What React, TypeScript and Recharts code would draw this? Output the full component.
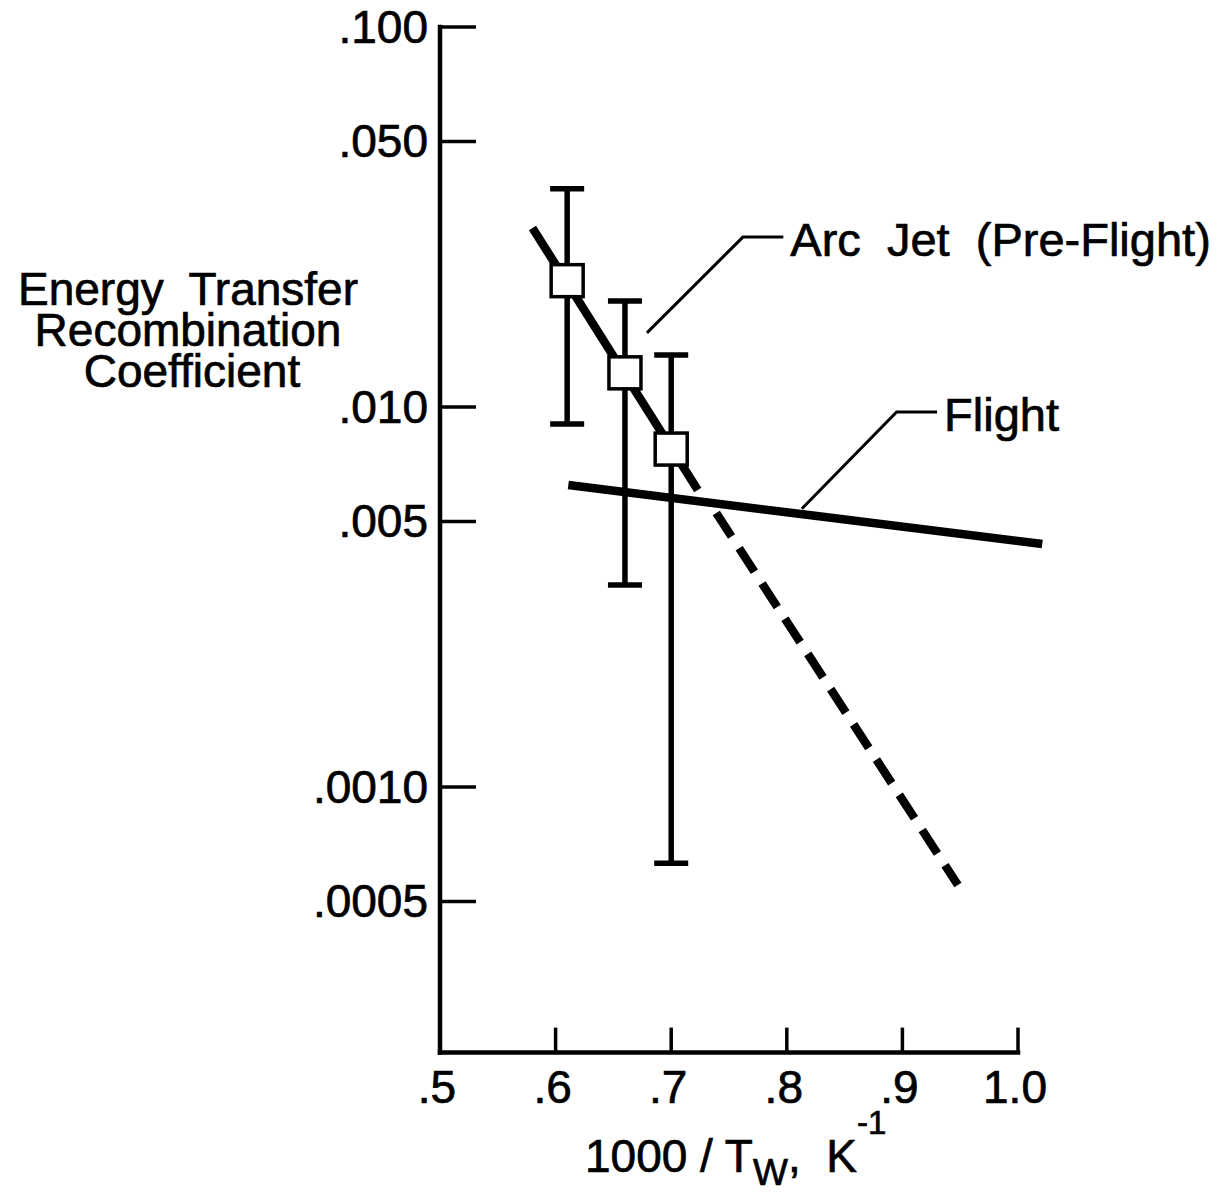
import React from 'react';
import {
  ComposedChart,
  Line,
  Scatter,
  ErrorBar,
  XAxis,
  YAxis,
  ReferenceLine,
  ReferenceDot,
} from 'recharts';

const FONT = '"Liberation Sans", Arial, Helvetica, sans-serif';
const TEXT_STROKE = 0.7;

// Arc-jet measurements: 1000/Tw vs. recombination coefficient, with scatter band
const arcJetX = [0.61, 0.66, 0.7];
const arcJetY = [0.0215, 0.0123, 0.00775];
const arcJetLow = [0.00902, 0.0034, 0.00063];
const arcJetHigh = [0.0375, 0.019, 0.0137];

// Arc-jet fit (solid) and its extrapolation to lower wall temperature (dashed)
const arcJetFitX = [0.58, 0.723];
const arcJetFitY = [0.0296, 0.00605];
const arcJetExtrapX = [0.739, 0.948];
const arcJetExtrapY = [0.00526, 0.000552];

// Coefficient inferred from flight data
const flightX = [0.611, 1.021];
const flightY = [0.00623, 0.00436];

// Callout leader lines
const arcJetLeaderX = [0.679, 0.762, 0.797];
const arcJetLeaderY = [0.01567, 0.028, 0.028];
const flightLeaderX = [0.813, 0.895, 0.93];
const flightLeaderY = [0.0054, 0.0097, 0.0097];

const arcJetName = 'Arc  Jet  (Pre-Flight)';
const flightName = 'Flight';

// Axes
const xTicks = [0.5, 0.6, 0.7, 0.8, 0.9, 1.0];
const xTickLabels = ['.5', '.6', '.7', '.8', '.9', '1.0'];
const yTicks = [0.1, 0.05, 0.01, 0.005, 0.001, 0.0005];
const yTickLabels = ['.100', '.050', '.010', '.005', '.0010', '.0005'];
const xDomain = [0.5, 1.05];
const yDomain = [0.0002, 0.1];

const zip = (xs: number[], ys: number[]) => xs.map((x, i) => ({ x, y: ys[i] }));

const arcJetPoints = arcJetX.map((x, i) => ({
  x,
  y: arcJetY[i],
  err: [arcJetY[i] - arcJetLow[i], arcJetHigh[i] - arcJetY[i]],
}));
const arcJetFit = zip(arcJetFitX, arcJetFitY);
const arcJetExtrap = zip(arcJetExtrapX, arcJetExtrapY);
const flight = zip(flightX, flightY);
const arcJetLeader = zip(arcJetLeaderX, arcJetLeaderY);
const flightLeader = zip(flightLeaderX, flightLeaderY);

const Y_TICK_GAP = 12;

const textProps = {
  fontFamily: FONT,
  fill: '#000',
  stroke: '#000',
  strokeWidth: TEXT_STROKE,
};

const YTick = (props: any) => {
  const { x, y, payload } = props;
  const axisX = x + Y_TICK_GAP;
  const label = yTickLabels[yTicks.indexOf(payload.value)];
  return (
    <g>
      <line x1={axisX} x2={axisX + 36} y1={y} y2={y} stroke="#000" strokeWidth={3.5} />
      <text x={x} y={y + 16} textAnchor="end" fontSize={46} {...textProps}>
        {label}
      </text>
    </g>
  );
};

const XTick = (props: any) => {
  const { x, y, payload } = props;
  const label = xTickLabels[xTicks.indexOf(payload.value)];
  return (
    <g>
      <line x1={x} x2={x} y1={y} y2={y - 25} stroke="#000" strokeWidth={3.5} />
      <text x={x - 3} y={y + 50} textAnchor="middle" fontSize={46} {...textProps}>
        {label}
      </text>
    </g>
  );
};

const XTitle = (props: any) => {
  const vb = props.viewBox || { x: 0, y: 0 };
  return (
    <text x={vb.x + 145} y={vb.y + 119} fontSize={46} {...textProps} style={{ whiteSpace: 'pre' }}>
      1000 / T
      <tspan fontSize={37} dy={13}>W</tspan>
      <tspan dy={-13}>,  K</tspan>
      <tspan fontSize={33} dy={-38}>-1</tspan>
    </text>
  );
};

const YTitle = () => (
  <text fontSize={46} textAnchor="middle" {...textProps} style={{ whiteSpace: 'pre' }}>
    <tspan x={188} y={305}>Energy  Transfer</tspan>
    <tspan x={188} y={346}>Recombination</tspan>
    <tspan x={192} y={387}>Coefficient</tspan>
  </text>
);

const makeCallout = (text: string) => (props: any) => {
  const vb = props.viewBox || { x: 0, y: 0 };
  return (
    <text x={vb.x + 7} y={vb.y + 19} fontSize={47} {...textProps} style={{ whiteSpace: 'pre' }}>
      {text}
    </text>
  );
};

const SquareMarker = (props: any) => {
  const { cx, cy } = props;
  return (
    <rect x={cx - 16} y={cy - 16} width={32} height={32} fill="#fff" stroke="#000" strokeWidth={3.5} />
  );
};

export default function App() {
  return (
    <div style={{ position: 'absolute', left: 0, top: 0, width: 1225, height: 1192, background: '#fff' }}>
      <ComposedChart
        width={1225}
        height={1192}
        margin={{ top: 27, right: 149.2, bottom: 79.4, left: 340 }}
      >
        <XAxis
          type="number"
          dataKey="x"
          domain={xDomain}
          ticks={xTicks}
          axisLine={false}
          tickLine={false}
          tickSize={0}
          tickMargin={0}
          tick={<XTick />}
          height={60}
          label={<XTitle />}
          interval={0}
        />
        <YAxis
          type="number"
          dataKey="y"
          scale="log"
          domain={yDomain}
          ticks={yTicks}
          axisLine={{ stroke: '#000', strokeWidth: 4.5, strokeLinecap: 'square' }}
          tickLine={false}
          tickSize={0}
          tickMargin={Y_TICK_GAP}
          tick={<YTick />}
          width={100}
          label={<YTitle />}
          interval={0}
          allowDataOverflow
        />
        <ReferenceLine
          segment={[
            { x: xTicks[0], y: yDomain[0] },
            { x: xTicks[xTicks.length - 1], y: yDomain[0] },
          ]}
          stroke="#000"
          strokeWidth={4.5}
          strokeLinecap="square"
          ifOverflow="visible"
        />
        <Line
          data={flight}
          dataKey="y"
          stroke="#000"
          strokeWidth={8.5}
          dot={false}
          activeDot={false}
          isAnimationActive={false}
        />
        <Line
          data={arcJetFit}
          dataKey="y"
          stroke="#000"
          strokeWidth={8.5}
          dot={false}
          activeDot={false}
          isAnimationActive={false}
        />
        <Line
          data={arcJetExtrap}
          dataKey="y"
          stroke="#000"
          strokeWidth={8.5}
          strokeDasharray="28 14"
          dot={false}
          activeDot={false}
          isAnimationActive={false}
        />
        <Line
          data={arcJetLeader}
          dataKey="y"
          stroke="#000"
          strokeWidth={3}
          dot={false}
          activeDot={false}
          isAnimationActive={false}
        />
        <Line
          data={flightLeader}
          dataKey="y"
          stroke="#000"
          strokeWidth={3}
          dot={false}
          activeDot={false}
          isAnimationActive={false}
        />
        <Scatter data={arcJetPoints} shape={<SquareMarker />} isAnimationActive={false}>
          <ErrorBar dataKey="err" direction="y" width={17} strokeWidth={5.5} stroke="#000" isAnimationActive={false} />
        </Scatter>
        <ReferenceDot
          x={arcJetLeaderX[2]}
          y={arcJetLeaderY[2]}
          r={0}
          fill="none"
          stroke="none"
          ifOverflow="visible"
          label={makeCallout(arcJetName)}
        />
        <ReferenceDot
          x={flightLeaderX[2]}
          y={flightLeaderY[2]}
          r={0}
          fill="none"
          stroke="none"
          ifOverflow="visible"
          label={makeCallout(flightName)}
        />
      </ComposedChart>
    </div>
  );
}
